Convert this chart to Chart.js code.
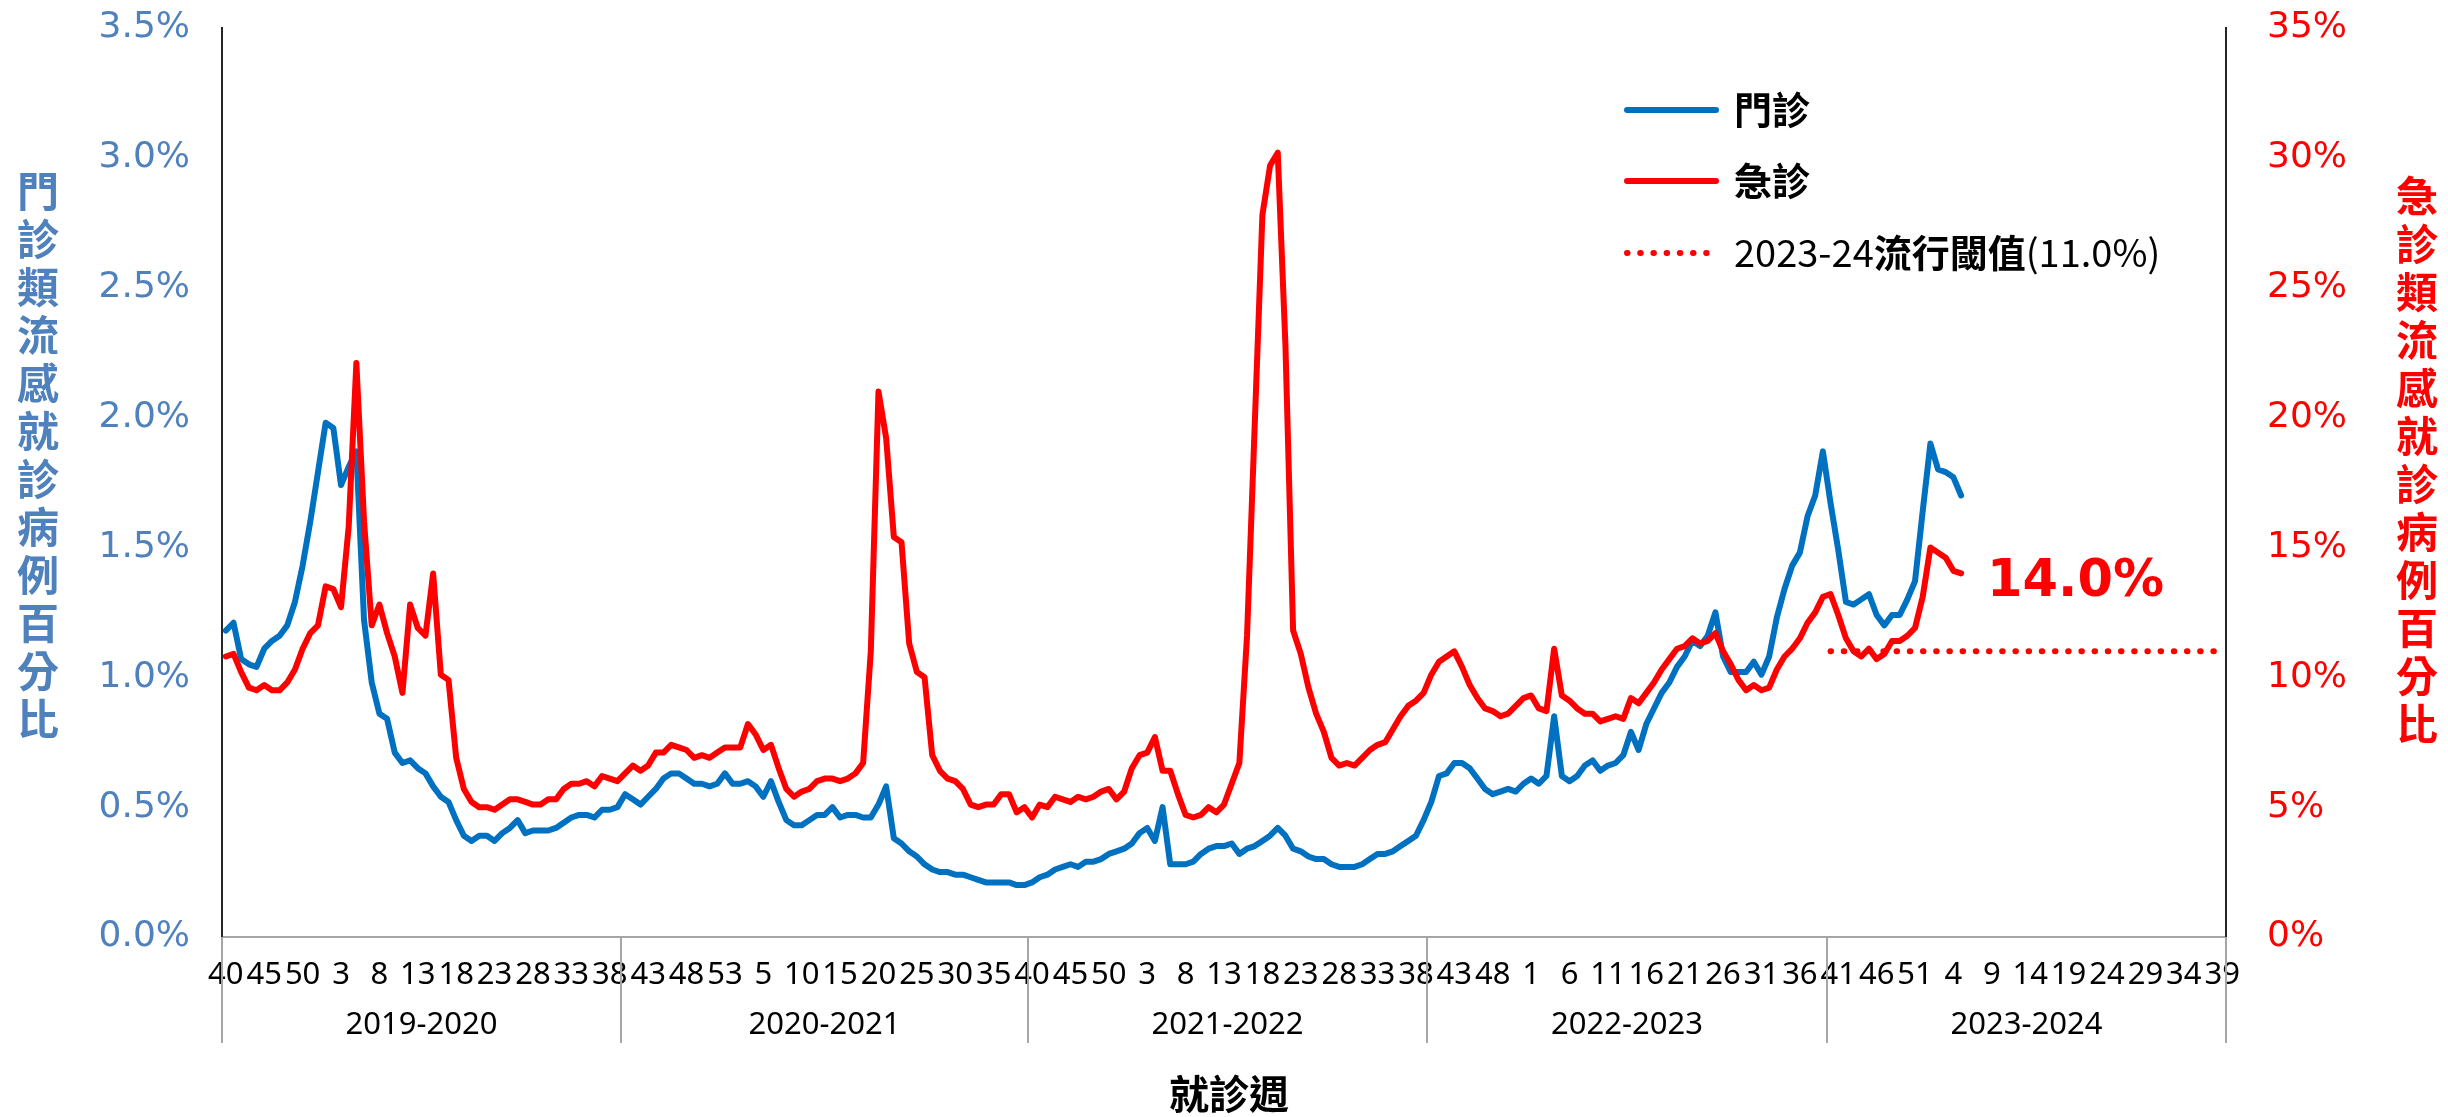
<!DOCTYPE html>
<html>
<head>
<meta charset="utf-8">
<script src="https://cdn.jsdelivr.net/npm/chart.js@4.4.1/dist/chart.umd.min.js"></script>
<style>
html,body{margin:0;padding:0;background:#ffffff;}
canvas{display:block;}
</style>
</head>
<body>
<canvas id="c" width="2448" height="1117"></canvas>
<script>
// ---------- categories ----------
const seasons = ['2019-2020', '2020-2021', '2021-2022', '2022-2023', '2023-2024'];
const weeks1920 = [40,41,42,43,44,45,46,47,48,49,50,51,52,1,2,3,4,5,6,7,8,9,10,11,12,13,14,15,16,17,18,19,20,21,22,23,24,25,26,27,28,29,30,31,32,33,34,35,36,37,38,39];
const weeks2021 = [40,41,42,43,44,45,46,47,48,49,50,51,52,53,1,2,3,4,5,6,7,8,9,10,11,12,13,14,15,16,17,18,19,20,21,22,23,24,25,26,27,28,29,30,31,32,33,34,35,36,37,38,39];
const weeks2122 = [40,41,42,43,44,45,46,47,48,49,50,51,52,1,2,3,4,5,6,7,8,9,10,11,12,13,14,15,16,17,18,19,20,21,22,23,24,25,26,27,28,29,30,31,32,33,34,35,36,37,38,39];
const weeks2223 = [40,41,42,43,44,45,46,47,48,49,50,51,52,1,2,3,4,5,6,7,8,9,10,11,12,13,14,15,16,17,18,19,20,21,22,23,24,25,26,27,28,29,30,31,32,33,34,35,36,37,38,39];
const weeks2324 = [40,41,42,43,44,45,46,47,48,49,50,51,52,1,2,3,4,5,6,7,8,9,10,11,12,13,14,15,16,17,18,19,20,21,22,23,24,25,26,27,28,29,30,31,32,33,34,35,36,37,38,39];
const seasonWeeks = [weeks1920, weeks2021, weeks2122, weeks2223, weeks2324];

// ---------- series (percent) ----------
// 門診 outpatient ILI % (left axis)
const outpatient = [
  1.18,1.21,1.07,1.05,1.04,1.11,1.14,1.16,1.20,1.29,
  1.43,1.60,1.79,1.98,1.96,1.74,1.81,1.87,1.22,0.98,
  0.86,0.84,0.71,0.67,0.68,0.65,0.63,0.58,0.54,0.52,
  0.45,0.39,0.37,0.39,0.39,0.37,0.40,0.42,0.45,0.40,
  0.41,0.41,0.41,0.42,0.44,0.46,0.47,0.47,0.46,0.49,
  0.49,0.50,
  0.55,0.53,0.51,0.54,0.57,0.61,0.63,0.63,0.61,0.59,
  0.59,0.58,0.59,0.63,0.59,0.59,0.60,0.58,0.54,0.60,
  0.52,0.45,0.43,0.43,0.45,0.47,0.47,0.50,0.46,0.47,
  0.47,0.46,0.46,0.51,0.58,0.38,0.36,0.33,0.31,0.28,
  0.26,0.25,0.25,0.24,0.24,0.23,0.22,0.21,0.21,0.21,
  0.21,0.20,0.20,
  0.21,0.23,0.24,0.26,0.27,0.28,0.27,0.29,0.29,0.30,
  0.32,0.33,0.34,0.36,0.40,0.42,0.37,0.50,0.28,0.28,
  0.28,0.29,0.32,0.34,0.35,0.35,0.36,0.32,0.34,0.35,
  0.37,0.39,0.42,0.39,0.34,0.33,0.31,0.30,0.30,0.28,
  0.27,0.27,0.27,0.28,0.30,0.32,0.32,0.33,0.35,0.37,
  0.39,0.45,
  0.52,0.62,0.63,0.67,0.67,0.65,0.61,0.57,0.55,0.56,
  0.57,0.56,0.59,0.61,0.59,0.62,0.85,0.62,0.60,0.62,
  0.66,0.68,0.64,0.66,0.67,0.70,0.79,0.72,0.82,0.88,
  0.94,0.98,1.04,1.08,1.14,1.12,1.16,1.25,1.08,1.02,
  1.02,1.02,1.06,1.01,1.08,1.23,1.34,1.43,1.48,1.62,
  1.70,1.87,
  1.67,1.49,1.29,1.28,1.30,1.32,1.24,1.20,1.24,1.24,
  1.30,1.37,1.64,1.90,1.80,1.79,1.77,1.70
];
// 急診 emergency ILI % (right axis)
const emergency = [
  10.8,10.9,10.2,9.6,9.5,9.7,9.5,9.5,9.8,10.3,
  11.1,11.7,12.0,13.5,13.4,12.7,15.8,22.1,16.0,12.0,
  12.8,11.7,10.8,9.4,12.8,11.9,11.6,14.0,10.1,9.9,
  6.9,5.7,5.2,5.0,5.0,4.9,5.1,5.3,5.3,5.2,
  5.1,5.1,5.3,5.3,5.7,5.9,5.9,6.0,5.8,6.2,
  6.1,6.0,
  6.3,6.6,6.4,6.6,7.1,7.1,7.4,7.3,7.2,6.9,
  7.0,6.9,7.1,7.3,7.3,7.3,8.2,7.8,7.2,7.4,
  6.5,5.7,5.4,5.6,5.7,6.0,6.1,6.1,6.0,6.1,
  6.3,6.7,11.0,21.0,19.2,15.4,15.2,11.3,10.2,10.0,
  7.0,6.4,6.1,6.0,5.7,5.1,5.0,5.1,5.1,5.5,
  5.5,4.8,5.0,
  4.6,5.1,5.0,5.4,5.3,5.2,5.4,5.3,5.4,5.6,
  5.7,5.3,5.6,6.5,7.0,7.1,7.7,6.4,6.4,5.5,
  4.7,4.6,4.7,5.0,4.8,5.1,5.9,6.7,11.6,19.7,
  27.8,29.7,30.2,22.8,11.8,10.9,9.6,8.6,7.9,6.9,
  6.6,6.7,6.6,6.9,7.2,7.4,7.5,8.0,8.5,8.9,
  9.1,9.4,
  10.1,10.6,10.8,11.0,10.4,9.7,9.2,8.8,8.7,8.5,
  8.6,8.9,9.2,9.3,8.8,8.7,11.1,9.3,9.1,8.8,
  8.6,8.6,8.3,8.4,8.5,8.4,9.2,9.0,9.4,9.8,
  10.3,10.7,11.1,11.2,11.5,11.3,11.4,11.7,11.0,10.5,
  9.9,9.5,9.7,9.5,9.6,10.3,10.8,11.1,11.5,12.1,
  12.5,13.1,
  13.2,12.4,11.5,11.0,10.8,11.1,10.7,10.9,11.4,11.4,
  11.6,11.9,13.1,15.0,14.8,14.6,14.1,14.0
];
// 2023-24 epidemic threshold for emergency ILI %
const threshold2324 = 11.0;
const thresholdSeason = '2023-2024';

// ---------- text ----------
const seriesNames = ['門診', '急診'];
const thresholdName = '2023-24流行閾值';
const yLeftTitle = '門診類流感就診病例百分比';
const yRightTitle = '急診類流感就診病例百分比';
const xTitle = '就診週';
const leftTicks = [0, 0.5, 1.0, 1.5, 2.0, 2.5, 3.0, 3.5];
const rightTicks = [0, 5, 10, 15, 20, 25, 30, 35];

// ---------- build tables for the library ----------
const labels = [].concat(...seasonWeeks).map(String);
const seasonStart = [];
{ let s = 0; seasonWeeks.forEach(w => { seasonStart.push(s); s += w.length; }); }
const thrIdx = seasons.indexOf(thresholdSeason);
const thresholdData = labels.map((_, i) =>
  (i >= seasonStart[thrIdx] && i < seasonStart[thrIdx] + seasonWeeks[thrIdx].length) ? threshold2324 : null);

const BLUE = '#0070C0', RED = '#FF0000', LBLUE = '#4F81BD';
const CJK = '"Noto Sans CJK TC", "Noto Sans CJK SC", sans-serif';
const LW = 6;

function drawVertical(ctx, text, cx, top, step, font, color) {
  ctx.font = font; ctx.fillStyle = color;
  ctx.textAlign = 'center'; ctx.textBaseline = 'middle';
  [...text].forEach((ch, i) => ctx.fillText(ch, cx, top + step * (i + 0.5)));
}
// CJK runs bold, other runs regular
function drawMixed(ctx, text, x, y, size) {
  const runs = text.match(/[\u3400-\u9fff]+|[^\u3400-\u9fff]+/g) || [];
  ctx.textAlign = 'left'; ctx.textBaseline = 'middle';
  runs.forEach(r => {
    const cjk = /[\u3400-\u9fff]/.test(r);
    ctx.font = (cjk ? 'bold ' : '') + size + 'px ' + CJK;
    ctx.fillText(r, x, y);
    x += ctx.measureText(r).width;
  });
}

const decor = {
  id: 'decor',
  afterDraw(chart) {
    const { ctx, chartArea: ca, scales } = chart;
    const x = scales.x, y1 = scales.y1;
    ctx.save();
    // season separators and season labels
    const half = (x.getPixelForValue(1) - x.getPixelForValue(0)) / 2;
    ctx.strokeStyle = '#A6A6A6'; ctx.lineWidth = 2;
    seasons.forEach((name, k) => {
      const a = seasonStart[k], b = a + seasonWeeks[k].length - 1;
      const xl = Math.round(x.getPixelForValue(a) - half);
      const xr = Math.round(x.getPixelForValue(b) + half);
      ctx.beginPath(); ctx.moveTo(xl, ca.bottom); ctx.lineTo(xl, ca.bottom + 106); ctx.stroke();
      if (k === seasons.length - 1) {
        ctx.beginPath(); ctx.moveTo(xr, ca.bottom); ctx.lineTo(xr, ca.bottom + 106); ctx.stroke();
      }
      ctx.font = '31px "Noto Sans", sans-serif'; ctx.fillStyle = '#000';
      ctx.textAlign = 'center'; ctx.textBaseline = 'middle';
      ctx.fillText(name, (xl + xr) / 2, ca.bottom + 88);
    });
    // axis titles
    drawVertical(ctx, yLeftTitle, 38, 167, 48, 'bold 42px ' + CJK, LBLUE);
    drawVertical(ctx, yRightTitle, 2417, 172, 48, 'bold 42px ' + CJK, RED);
    ctx.font = 'bold 40px ' + CJK; ctx.fillStyle = '#000';
    ctx.textAlign = 'center'; ctx.textBaseline = 'middle';
    ctx.fillText(xTitle, (ca.left + ca.right) / 2 + 5, 1094);
    // legend
    const rows = [
      { text: seriesNames[0], color: BLUE, dash: [] },
      { text: seriesNames[1], color: RED, dash: [] },
      { text: thresholdName + '(' + threshold2324.toFixed(1) + '%)', color: RED, dash: [0.5, 12.7] }
    ];
    const rowY = [110, 181, 253];
    rows.forEach((r, k) => {
      ctx.beginPath();
      ctx.strokeStyle = r.color; ctx.lineWidth = LW; ctx.lineCap = 'round';
      ctx.setLineDash(r.dash);
      ctx.moveTo(1627, rowY[k]); ctx.lineTo(1716, rowY[k]); ctx.stroke();
      ctx.setLineDash([]);
      ctx.fillStyle = '#000';
      drawMixed(ctx, r.text, 1734, rowY[k], 38);
    });
    // latest value annotation
    const last = emergency.length - 1;
    ctx.font = 'bold 51px "DejaVu Sans", sans-serif'; ctx.fillStyle = RED;
    ctx.textAlign = 'left'; ctx.textBaseline = 'middle';
    ctx.fillText(emergency[last].toFixed(1) + '%', x.getPixelForValue(last) + 26, y1.getPixelForValue(emergency[last]) + 9);
    ctx.restore();
  }
};

new Chart(document.getElementById('c'), {
  type: 'line',
  data: {
    labels: labels,
    datasets: [
      { label: seriesNames[0], data: outpatient, yAxisID: 'y', borderColor: BLUE, borderWidth: LW,
        pointRadius: 0, tension: 0, borderJoinStyle: 'round', borderCapStyle: 'round', fill: false, order: 2 },
      { label: seriesNames[1], data: emergency, yAxisID: 'y1', borderColor: RED, borderWidth: LW,
        pointRadius: 0, tension: 0, borderJoinStyle: 'round', borderCapStyle: 'round', fill: false, order: 1 },
      { label: thresholdName, data: thresholdData, yAxisID: 'y1', borderColor: RED, borderWidth: LW,
        borderDash: [0.5, 12.7], borderCapStyle: 'round', pointRadius: 0, fill: false, order: 0 }
    ]
  },
  options: {
    responsive: false, animation: false, devicePixelRatio: 1,
    layout: { padding: { top: 28, left: 0, right: 0, bottom: 0 } },
    plugins: { legend: { display: false }, tooltip: { enabled: false } },
    scales: {
      x: {
        type: 'category', offset: true,
        grid: { display: false, drawTicks: false },
        border: { display: true, color: '#A6A6A6', width: 2 },
        ticks: {
          autoSkip: false, maxRotation: 0, minRotation: 0, padding: 20, color: '#000',
          font: { family: '"Noto Sans", sans-serif', size: 31 },
          callback: function (v, i) { return i % 5 === 0 ? this.getLabelForValue(v) : ''; }
        },
        afterFit: s => { s.height = 180; }
      },
      y: {
        position: 'left', min: 0, max: 3.5,
        grid: { display: false, drawTicks: true, tickLength: 32 },
        border: { display: true, color: '#262626', width: 2 },
        afterBuildTicks: s => { s.ticks = leftTicks.map(v => ({ value: v })); },
        ticks: { padding: 0, color: LBLUE, font: { family: '"DejaVu Sans", sans-serif', size: 36 },
          callback: v => v.toFixed(1) + '%' },
        afterFit: s => { s.width = 222; }
      },
      y1: {
        position: 'right', min: 0, max: 35,
        grid: { display: false, drawTicks: true, tickLength: 41 },
        border: { display: true, color: '#262626', width: 2 },
        afterBuildTicks: s => { s.ticks = rightTicks.map(v => ({ value: v })); },
        ticks: { padding: 0, color: RED, font: { family: '"DejaVu Sans", sans-serif', size: 36 },
          callback: v => v + '%' },
        afterFit: s => { s.width = 222; }
      }
    }
  },
  plugins: [decor]
});
</script>
</body>
</html>
